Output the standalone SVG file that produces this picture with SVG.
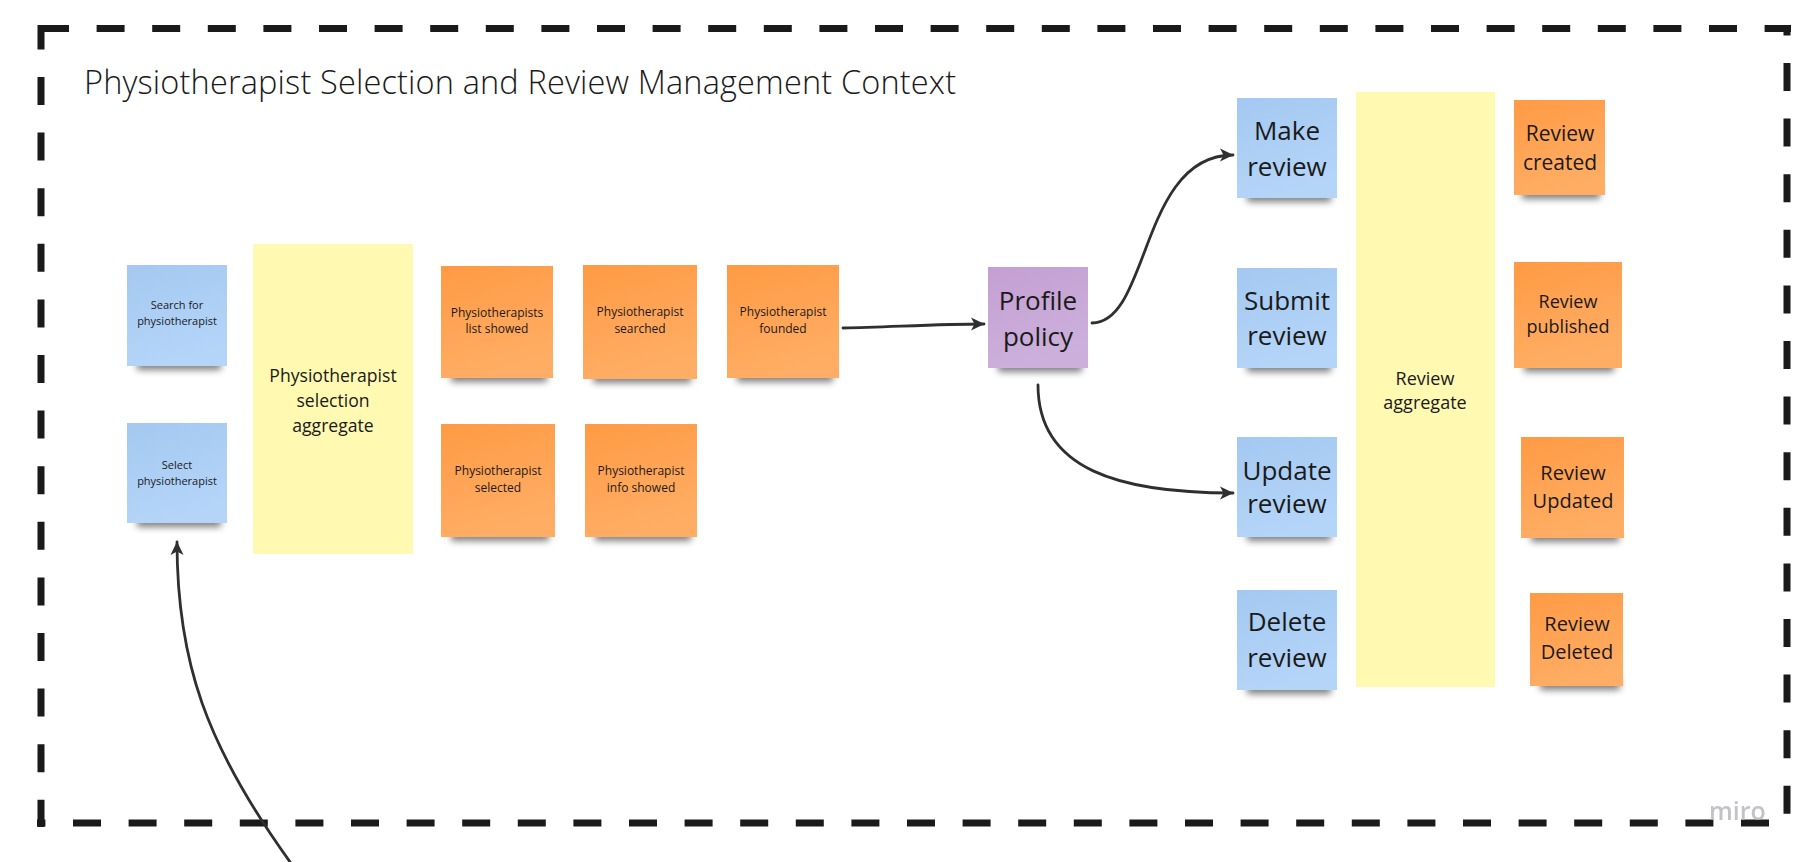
<svg xmlns="http://www.w3.org/2000/svg" width="1811" height="862" viewBox="0 0 1811 862">
<style>
.frame{stroke:#1a1a1a;stroke-width:7;stroke-dasharray:28 27.6;fill:none}
.title{font-family:"Open Sans","Liberation Sans",sans-serif;font-weight:300;font-size:32.5px;fill:#1a1a1a}
.t{font-family:"Open Sans","Liberation Sans",sans-serif;fill:#1a1a1a;text-anchor:middle}
.s10{font-size:11px}
.s11{font-size:12px}
.s17{font-size:17.6px}
.s18{font-size:18px}
.s20{font-size:20px}
.s21{font-size:21px}
.s26{font-size:26px}
.sh{fill:#000;opacity:0.5}
.conn{fill:none;stroke:#2f2f2f;stroke-width:2.8;stroke-linecap:round}
.miro{font-family:"Open Sans","Liberation Sans",sans-serif;font-weight:600;font-size:25px;fill:#b4b4bc;opacity:0.8}
</style>
<defs>
<linearGradient id="gBlue" x1="0" y1="0" x2="0.3" y2="1"><stop offset="0" stop-color="#a4c8f1"/><stop offset="1" stop-color="#b4d5f8"/></linearGradient>
<linearGradient id="gOrange" x1="0" y1="0" x2="0.3" y2="1"><stop offset="0" stop-color="#ff9a44"/><stop offset="1" stop-color="#ffad64"/></linearGradient>
<linearGradient id="gPurple" x1="0" y1="0" x2="0.3" y2="1"><stop offset="0" stop-color="#c49fd3"/><stop offset="1" stop-color="#ccb0db"/></linearGradient>
<filter id="blur" x="-20%" y="-150%" width="140%" height="400%"><feGaussianBlur stdDeviation="3.5"/></filter>
<marker id="arr" viewBox="0 0 14 14" refX="13" refY="7" markerWidth="14" markerHeight="14" markerUnits="userSpaceOnUse" orient="auto">
<path d="M0,0.5 L13.5,7 L0,13.5 L3.5,7 Z" fill="#2f2f2f"/>
</marker>
</defs>
<rect width="1811" height="862" fill="#ffffff"/>

<g id="frame">
<line class="frame" x1="41" y1="25" x2="41" y2="827" stroke-dashoffset="3.6"/>
<line class="frame" x1="41" y1="28.5" x2="1791" y2="28.5"/>
<line class="frame" x1="1787" y1="25" x2="1787" y2="823" stroke-dashoffset="17.6"/>
<line class="frame" x1="37" y1="823" x2="1791" y2="823" stroke-dashoffset="19.6"/>
<text class="title" x="84" y="94" textLength="872" lengthAdjust="spacing">Physiotherapist Selection and Review Management Context</text>
</g>

<g id="agg-selection">
<rect x="253" y="244" width="160" height="310" fill="#fff9b1"/>
<text class="t s17"><tspan x="333" y="382">Physiotherapist</tspan><tspan x="333" y="407">selection</tspan><tspan x="333" y="432">aggregate</tspan></text>
</g>

<g id="agg-review">
<rect x="1356" y="92" width="139" height="595" fill="#fff9b1"/>
<text class="t s18"><tspan x="1425" y="385">Review</tspan><tspan x="1425" y="409">aggregate</tspan></text>
</g>

<g id="cmd-search">
<rect class="sh" x="137" y="359" width="84" height="11" filter="url(#blur)"/>
<rect x="127" y="265" width="100" height="101" fill="url(#gBlue)"/>
<text class="t s10"><tspan x="177" y="309">Search for</tspan><tspan x="177" y="325">physiotherapist</tspan></text>
</g>

<g id="cmd-select">
<rect class="sh" x="137" y="516" width="84" height="11" filter="url(#blur)"/>
<rect x="127" y="423" width="100" height="100" fill="url(#gBlue)"/>
<text class="t s10"><tspan x="177" y="469">Select</tspan><tspan x="177" y="485">physiotherapist</tspan></text>
</g>

<g id="evt-list-showed">
<rect class="sh" x="451" y="371" width="96" height="11" filter="url(#blur)"/>
<rect x="441" y="266" width="112" height="112" fill="url(#gOrange)"/>
<text class="t s11"><tspan x="497" y="317">Physiotherapists</tspan><tspan x="497" y="333">list showed</tspan></text>
</g>

<g id="evt-searched">
<rect class="sh" x="593" y="372" width="98" height="11" filter="url(#blur)"/>
<rect x="583" y="265" width="114" height="114" fill="url(#gOrange)"/>
<text class="t s11"><tspan x="640" y="316">Physiotherapist</tspan><tspan x="640" y="333">searched</tspan></text>
</g>

<g id="evt-founded">
<rect class="sh" x="737" y="371" width="96" height="11" filter="url(#blur)"/>
<rect x="727" y="265" width="112" height="113" fill="url(#gOrange)"/>
<text class="t s11"><tspan x="783" y="316">Physiotherapist</tspan><tspan x="783" y="333">founded</tspan></text>
</g>

<g id="evt-selected">
<rect class="sh" x="451" y="530" width="98" height="11" filter="url(#blur)"/>
<rect x="441" y="424" width="114" height="113" fill="url(#gOrange)"/>
<text class="t s11"><tspan x="498" y="475">Physiotherapist</tspan><tspan x="498" y="492">selected</tspan></text>
</g>

<g id="evt-info-showed">
<rect class="sh" x="595" y="530" width="96" height="11" filter="url(#blur)"/>
<rect x="585" y="424" width="112" height="113" fill="url(#gOrange)"/>
<text class="t s11"><tspan x="641" y="475">Physiotherapist</tspan><tspan x="641" y="492">info showed</tspan></text>
</g>

<g id="policy-profile">
<rect class="sh" x="998" y="361" width="84" height="11" filter="url(#blur)"/>
<rect x="988" y="267" width="100" height="101" fill="url(#gPurple)"/>
<text class="t s26"><tspan x="1038" y="310">Profile</tspan><tspan x="1038" y="346">policy</tspan></text>
</g>

<g id="cmd-make">
<rect class="sh" x="1247" y="191" width="84" height="11" filter="url(#blur)"/>
<rect x="1237" y="98" width="100" height="100" fill="url(#gBlue)"/>
<text class="t s26"><tspan x="1287" y="140">Make</tspan><tspan x="1287" y="176">review</tspan></text>
</g>

<g id="cmd-submit">
<rect class="sh" x="1247" y="361" width="84" height="11" filter="url(#blur)"/>
<rect x="1237" y="268" width="100" height="100" fill="url(#gBlue)"/>
<text class="t s26"><tspan x="1287" y="310">Submit</tspan><tspan x="1287" y="345">review</tspan></text>
</g>

<g id="cmd-update">
<rect class="sh" x="1247" y="530" width="84" height="11" filter="url(#blur)"/>
<rect x="1237" y="437" width="100" height="100" fill="url(#gBlue)"/>
<text class="t s26"><tspan x="1287" y="480">Update</tspan><tspan x="1287" y="513">review</tspan></text>
</g>

<g id="cmd-delete">
<rect class="sh" x="1247" y="683" width="84" height="11" filter="url(#blur)"/>
<rect x="1237" y="590" width="100" height="100" fill="url(#gBlue)"/>
<text class="t s26"><tspan x="1287" y="631">Delete</tspan><tspan x="1287" y="667">review</tspan></text>
</g>

<g id="evt-created">
<rect class="sh" x="1522" y="188" width="78" height="11" filter="url(#blur)"/>
<rect x="1514" y="100" width="91" height="95" fill="url(#gOrange)"/>
<text class="t s21"><tspan x="1560" y="141">Review</tspan><tspan x="1560" y="170">created</tspan></text>
</g>

<g id="evt-published">
<rect class="sh" x="1524" y="361" width="90" height="11" filter="url(#blur)"/>
<rect x="1514" y="262" width="108" height="106" fill="url(#gOrange)"/>
<text class="t s18"><tspan x="1568" y="308">Review</tspan><tspan x="1568" y="333">published</tspan></text>
</g>

<g id="evt-updated">
<rect class="sh" x="1531" y="531" width="88" height="11" filter="url(#blur)"/>
<rect x="1521" y="437" width="103" height="101" fill="url(#gOrange)"/>
<text class="t s20"><tspan x="1573" y="480">Review</tspan><tspan x="1573" y="508">Updated</tspan></text>
</g>

<g id="evt-deleted">
<rect class="sh" x="1540" y="679" width="80" height="11" filter="url(#blur)"/>
<rect x="1530" y="593" width="93" height="93" fill="url(#gOrange)"/>
<text class="t s20"><tspan x="1577" y="631">Review</tspan><tspan x="1577" y="659">Deleted</tspan></text>
</g>

<g id="connectors">
<path class="conn" d="M843,328 C890,327 940,324 984,324" marker-end="url(#arr)"/>
<path class="conn" d="M1092,323 C1150,323 1140,155 1233,155" marker-end="url(#arr)"/>
<path class="conn" d="M1038,385 C1038,470 1120,493 1233,493" marker-end="url(#arr)"/>
<path class="conn" d="M293,866 C205,745 177,660 177,542" marker-end="url(#arr)"/>
</g>

<text class="miro" x="1709" y="820">miro</text>
</svg>
